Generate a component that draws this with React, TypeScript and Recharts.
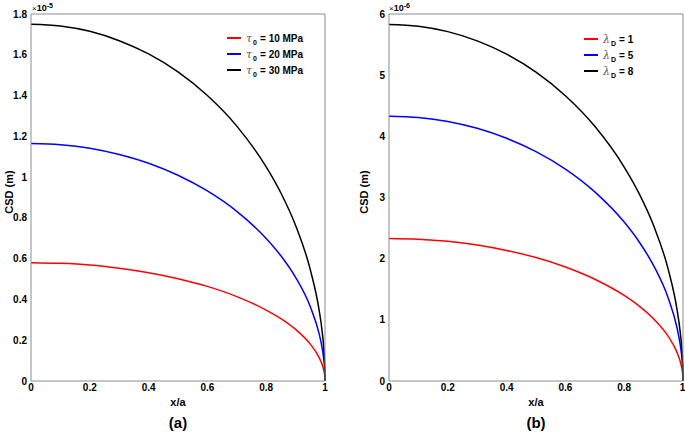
import { LineChart, Line, XAxis, YAxis } from 'recharts';

const xRatio = [0, 0.1, 0.2, 0.3, 0.4, 0.5, 0.6, 0.7, 0.8, 0.85, 0.9, 0.95, 0.98, 0.99, 0.995, 0.999, 1];

// panel (a): CSD in units of 1e-5 m
const tau10 = [0.58, 0.577, 0.569, 0.553, 0.531, 0.502, 0.464, 0.414, 0.348, 0.306, 0.253, 0.181, 0.115, 0.082, 0.058, 0.026, 0];
const tau20 = [1.165, 1.159, 1.142, 1.111, 1.068, 1.009, 0.932, 0.832, 0.699, 0.614, 0.508, 0.364, 0.232, 0.164, 0.117, 0.052, 0];
const tau30 = [1.75, 1.741, 1.715, 1.669, 1.604, 1.516, 1.4, 1.25, 1.05, 0.922, 0.763, 0.546, 0.348, 0.247, 0.175, 0.078, 0];

// panel (b): CSD in units of 1e-6 m
const lambda1 = [2.33, 2.318, 2.283, 2.223, 2.135, 2.018, 1.864, 1.664, 1.398, 1.227, 1.016, 0.728, 0.464, 0.329, 0.233, 0.104, 0];
const lambda5 = [4.33, 4.308, 4.243, 4.131, 3.968, 3.75, 3.464, 3.092, 2.598, 2.281, 1.887, 1.352, 0.862, 0.611, 0.433, 0.194, 0];
const lambda8 = [5.83, 5.801, 5.712, 5.561, 5.343, 5.049, 4.664, 4.164, 3.498, 3.071, 2.541, 1.82, 1.16, 0.822, 0.583, 0.261, 0];

const xTicks = [0, 0.2, 0.4, 0.6, 0.8, 1];
const yTicksA = [0, 0.2, 0.4, 0.6, 0.8, 1, 1.2, 1.4, 1.6, 1.8];
const yTicksB = [0, 1, 2, 3, 4, 5, 6];

const tauLabels = ['10', '20', '30'];
const lambdaLabels = ['1', '5', '8'];
const colors = ['#ff0000', '#0000ff', '#000000'];

const dataA = xRatio.map((x, i) => ({ x, s0: tau10[i], s1: tau20[i], s2: tau30[i] }));
const dataB = xRatio.map((x, i) => ({ x, s0: lambda1[i], s1: lambda5[i], s2: lambda8[i] }));

const FONT = '"Liberation Sans", Arial, sans-serif';
const AXIS = '#8c8c8c';
const tickStyle = { fill: '#000', fontSize: 10, fontWeight: 700, fontFamily: FONT };

function fmt(v: number) {
  return String(Math.round(v * 10) / 10);
}

interface PanelProps {
  data: Array<Record<string, number>>;
  yTicks: number[];
  yMax: number;
  width: number;
  yAxisWidth: number;
  marginRight: number;
}

function Panel({ data, yTicks, yMax, width, yAxisWidth, marginRight }: PanelProps) {
  return (
    <LineChart
      width={width}
      height={432}
      data={data}
      margin={{ top: 14, right: marginRight, bottom: 31, left: 0 }}
    >
      <XAxis
        dataKey="x"
        type="number"
        domain={[0, 1]}
        ticks={xTicks}
        tickFormatter={fmt}
        tick={tickStyle}
        tickLine={false}
        axisLine={false}
        tickSize={0}
        tickMargin={3}
        height={20}
      />
      <YAxis
        type="number"
        domain={[0, yMax]}
        ticks={yTicks}
        tickFormatter={fmt}
        tick={tickStyle}
        tickLine={false}
        axisLine={false}
        tickSize={0}
        tickMargin={4}
        width={yAxisWidth}
      />
      {/* box with inward ticks on all four sides */}
      <XAxis xAxisId="bm" type="number" domain={[0, 1]} ticks={xTicks} orientation="bottom" mirror tick={false} tickSize={4} stroke={AXIS} />
      <XAxis xAxisId="tm" type="number" domain={[0, 1]} ticks={xTicks} orientation="top" mirror tick={false} tickSize={4} stroke={AXIS} />
      <YAxis yAxisId="lm" type="number" domain={[0, yMax]} ticks={yTicks} orientation="left" mirror tick={false} tickSize={4} stroke={AXIS} />
      <YAxis yAxisId="rm" type="number" domain={[0, yMax]} ticks={yTicks} orientation="right" mirror tick={false} tickSize={4} stroke={AXIS} />
      {['s0', 's1', 's2'].map((k, i) => (
        <Line
          key={k}
          dataKey={k}
          type="monotone"
          stroke={colors[i]}
          strokeWidth={1.5}
          dot={false}
          isAnimationActive={false}
        />
      ))}
    </LineChart>
  );
}

function abs(left: number, top: number, extra: React.CSSProperties = {}): React.CSSProperties {
  return { position: 'absolute', left, top, whiteSpace: 'nowrap', ...extra };
}

function Legend({ left, top, sym, sub, labels, unit }: { left: number; top: number; sym: string; sub: string; labels: string[]; unit: string }) {
  return (
    <>
      {labels.map((l, i) => (
        <div key={l} style={abs(left, top + i * 16, { display: 'flex', alignItems: 'center', height: 12 })}>
          <span style={{ display: 'inline-block', width: 14, height: 1.5, background: colors[i], marginRight: 5 }} />
          <span style={{ fontFamily: '"DejaVu Serif", serif', fontStyle: 'italic', fontSize: 11, color: '#555' }}>{sym}</span>
          <span style={{ fontSize: 7, fontWeight: 700, position: 'relative', top: 4, marginLeft: 1 }}>{sub}</span>
          <span style={{ fontSize: 10, fontWeight: 700, marginLeft: 3 }}>= {l}{unit}</span>
        </div>
      ))}
    </>
  );
}

function Exponent({ left, power }: { left: number; power: string }) {
  return (
    <div style={abs(left, 3, { fontSize: 9, fontWeight: 700, lineHeight: '10px' })}>
      <span style={{ fontWeight: 400, fontSize: 8 }}>×</span>10
      <span style={{ fontSize: 7, position: 'relative', top: -3 }}>{power}</span>
    </div>
  );
}

function YLabel({ cx, cy }: { cx: number; cy: number }) {
  return (
    <div
      style={abs(cx - 30, cy - 7, {
        width: 60,
        textAlign: 'center',
        fontSize: 11,
        fontWeight: 700,
        transform: 'rotate(-90deg)',
      })}
    >
      CSD (m)
    </div>
  );
}

function XLabels({ cx, tag }: { cx: number; tag: string }) {
  return (
    <>
      <div style={abs(cx - 30, 396, { width: 60, textAlign: 'center', fontSize: 11, fontWeight: 700 })}>x/a</div>
      <div style={abs(cx - 30, 414, { width: 60, textAlign: 'center', fontSize: 15, fontWeight: 700 })}>{tag}</div>
    </>
  );
}

export default function App() {
  return (
    <div
      style={{
        position: 'absolute',
        left: 0,
        top: 0,
        width: 685,
        height: 432,
        background: '#fff',
        fontFamily: FONT,
        color: '#000',
      }}
    >
      <div style={abs(0, 0)}>
        <Panel data={dataA} yTicks={yTicksA} yMax={1.8} width={340} yAxisWidth={31} marginRight={15} />
      </div>
      <div style={abs(342, 0)}>
        <Panel data={dataB} yTicks={yTicksB} yMax={6} width={343} yAxisWidth={47} marginRight={2} />
      </div>
      <Exponent left={32} power="-5" />
      <Exponent left={389} power="-6" />
      <YLabel cx={9} cy={193} />
      <YLabel cx={364} cy={193} />
      <XLabels cx={178} tag="(a)" />
      <XLabels cx={536} tag="(b)" />
      <Legend left={227} top={32} sym="τ" sub="0" labels={tauLabels} unit=" MPa" />
      <Legend left={584} top={33} sym="λ" sub="D" labels={lambdaLabels} unit="" />
    </div>
  );
}
